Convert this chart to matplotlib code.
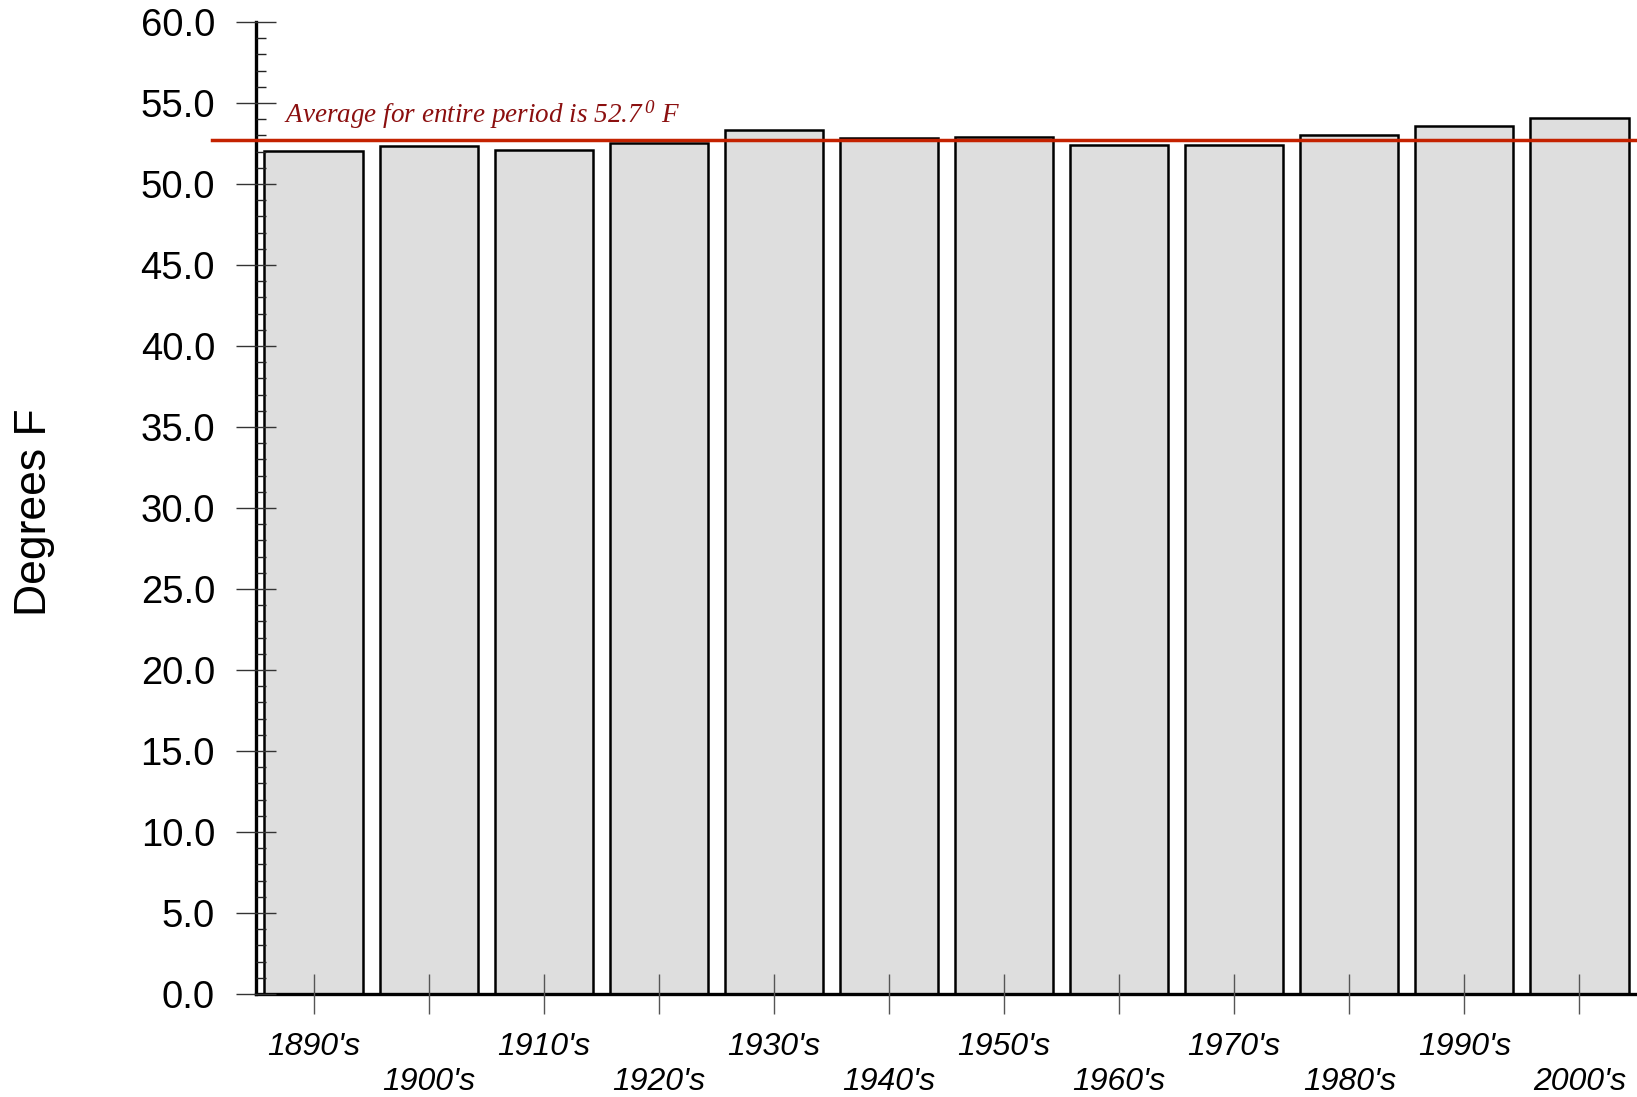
import matplotlib
matplotlib.use("Agg")
import matplotlib.pyplot as plt
from matplotlib.ticker import MultipleLocator, FormatStrFormatter

decades = ["1890's", "1900's", "1910's", "1920's", "1930's", "1940's",
           "1950's", "1960's", "1970's", "1980's", "1990's", "2000's"]
temps = [52.02, 52.35, 52.12, 52.51, 53.31, 52.82,
         52.92, 52.41, 52.41, 53.02, 53.56, 54.09]
period_avg = 52.7
avg_label = "Average for entire period is 52.7$\\,^{0}$ F"
y_label = "Degrees F"

plt.rcParams['mathtext.fontset'] = 'custom'
plt.rcParams['mathtext.rm'] = 'Liberation Serif:italic'
plt.rcParams['mathtext.it'] = 'Liberation Serif:italic'

W, H = 1637, 1097
fig = plt.figure(figsize=(W / 100, H / 100), dpi=100)
ax = fig.add_axes([256 / W, (H - 994) / H, (W - 256) / W, (994 - 22) / H])
ax.set_axisbelow(False)

x = list(range(len(decades)))
ax.bar(x, temps, width=0.853, color='#DEDEDE', edgecolor='black', linewidth=1.8, zorder=2)

ax.plot([-0.88, 11.5], [period_avg, period_avg], color='#C42200', linewidth=2.5,
        clip_on=False, zorder=3)
ax.text(-0.26, 53.8, avg_label, color='#8B0F0F', fontsize=19.5,
        family='Liberation Serif', style='italic', va='baseline', ha='left')

ax.set_xlim(-0.5, 11.5)
ax.set_ylim(0, 60)

ax.spines['top'].set_visible(False)
ax.spines['right'].set_visible(False)
ax.spines['left'].set_linewidth(2.4)
ax.spines['bottom'].set_linewidth(2.4)

ax.yaxis.set_major_locator(MultipleLocator(5))
ax.yaxis.set_minor_locator(MultipleLocator(1))
ax.yaxis.set_major_formatter(FormatStrFormatter('%.1f'))
ax.tick_params(axis='y', which='major', direction='inout', length=29, width=1.0,
               color='#333333', pad=15, labelsize=27.5)
ax.tick_params(axis='y', which='minor', direction='in', length=7.5, width=1.0,
               color='#222222')
for lab in ax.get_yticklabels():
    lab.set_family('Liberation Sans')

ax.set_xticks(x)
labels = [d if i % 2 == 0 else "\n" + d for i, d in enumerate(decades)]
ax.set_xticklabels(labels, fontsize=23, family='Liberation Sans', style='italic',
                   linespacing=1.22)
ax.tick_params(axis='x', which='major', direction='inout', length=29, width=1.0,
               color='#555555', pad=13)

ax.set_ylabel(y_label, fontsize=32, family='Liberation Sans', va='center')
ax.yaxis.set_label_coords(-(256 - 34) / (W - 256), (994 - 512) / (994 - 22))

fig.savefig("out.png", dpi=100)
